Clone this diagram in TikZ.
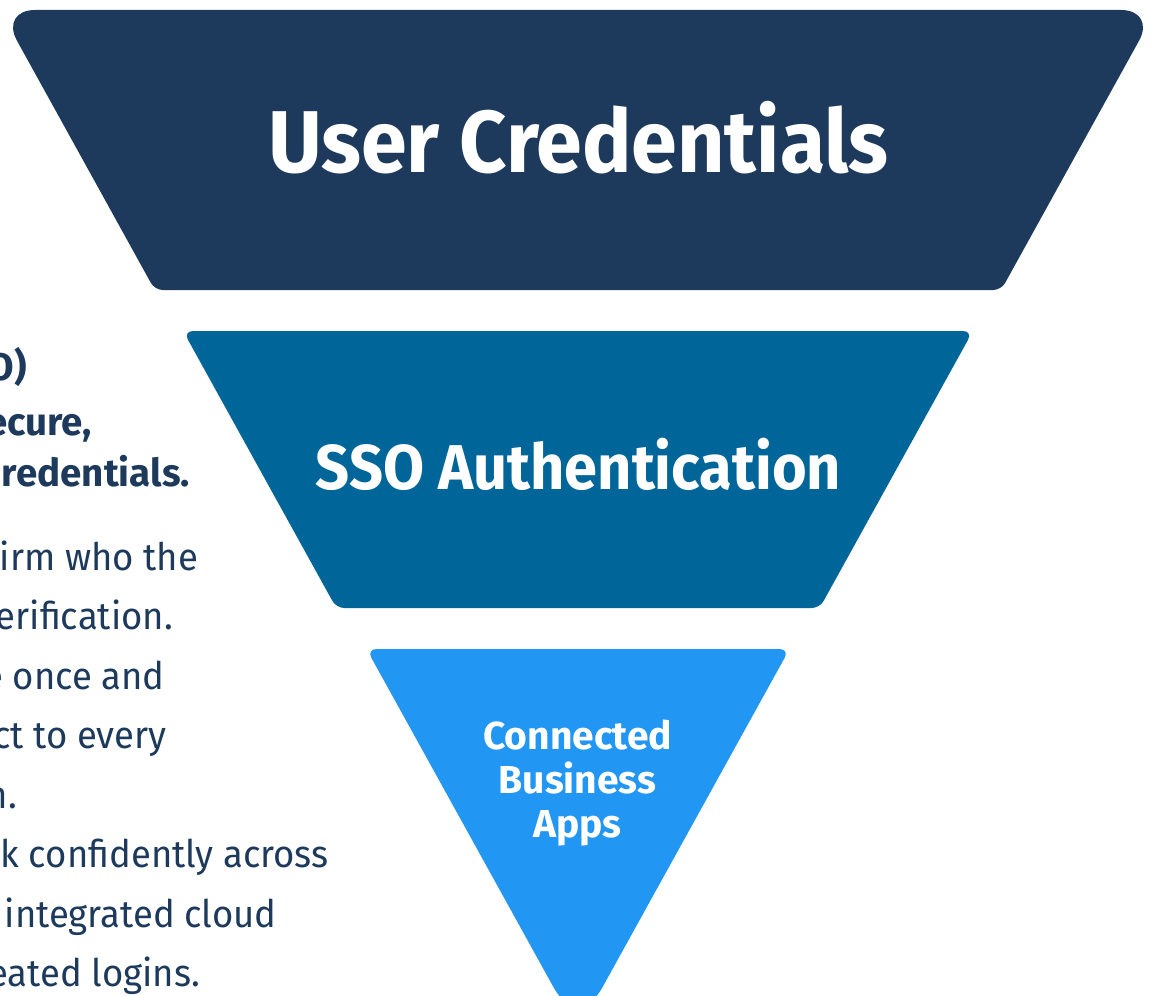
\documentclass[tikz,border=0pt]{standalone}
\usepackage{fontspec}
\setmainfont{Fira Sans}
\newfontfamily\headfont[FakeStretch=0.94]{Fira Sans}
\newfontfamily\bodyfont[FakeStretch=0.96]{Fira Sans}
\definecolor{navy}{HTML}{1D3A5C}
\definecolor{teal}{HTML}{006699}
\definecolor{sky}{HTML}{2196F3}
\begin{document}
\begin{tikzpicture}[x=1pt,y=-1pt,
  headtext/.style={text=white,inner sep=0pt,anchor=base},
  boldline/.style={text=navy,font=\fontsize{38.5}{38.5}\selectfont\bfseries,inner sep=0pt,anchor=base east},
  bodyline/.style={text=navy,font=\bodyfont\fontsize{38}{38}\selectfont,inner sep=0pt,anchor=base east}]
\useasboundingbox (0,0) rectangle (1155,995);
\clip (0,0) rectangle (1155,995);
% layer 1
\fill[navy] (578,10) [rounded corners=35] -- (1156,10) [rounded corners=8] -- (1001.2,290) -- (154.8,290) [rounded corners=35] -- (0,10) [sharp corners] -- cycle;
% layer 2
\fill[teal] (578,331) [rounded corners=10] -- (972.9,331) [rounded corners=8] -- (819.7,608) -- (336.3,608) [rounded corners=10] -- (183.1,331) [sharp corners] -- cycle;
% layer 3
\fill[sky] (578,649) [rounded corners=10] -- (789.5,649) [rounded corners=50] -- (578,1031.5) [rounded corners=10] -- (366.5,649) [sharp corners] -- cycle;
% titles
\node[headtext,font=\headfont\fontsize{87.8}{87.8}\selectfont\bfseries] (t1) at (578.5,172) {User Credentials};
\node[headtext,font=\headfont\fontsize{63.3}{63.3}\selectfont\bfseries] (t2) at (578.5,489) {SSO Authentication};
\node[headtext,font=\fontsize{39}{39}\selectfont\bfseries] (t3a) at (577.5,749) {Connected};
\node[headtext,font=\fontsize{39}{39}\selectfont\bfseries] (t3b) at (577.5,793) {Business};
\node[headtext,font=\fontsize{39}{39}\selectfont\bfseries] (t3c) at (577.5,837) {Apps};
% left text
\node[boldline] (b1) at (27,380.5) {O)};
\node[boldline] (b2) at (92,435) {ecure,};
\node[boldline] (b3) at (190,486) {redentials.};
\node[bodyline] (l1) at (198.3,570) {irm who the};
\node[bodyline] (l2) at (173,629.5) {erification.};
\node[bodyline] (l3) at (165,689) {e once and};
\node[bodyline] (l4) at (166.7,748.5) {ct to every};
\node[bodyline] (l5) at (17,808) {n.};
\node[bodyline] (l6) at (328.7,867.5) {k confidently across};
\node[bodyline] (l7) at (277,927) {integrated cloud};
\node[bodyline] (l8) at (200,986.5) {eated logins.};
\end{tikzpicture}
\end{document}
